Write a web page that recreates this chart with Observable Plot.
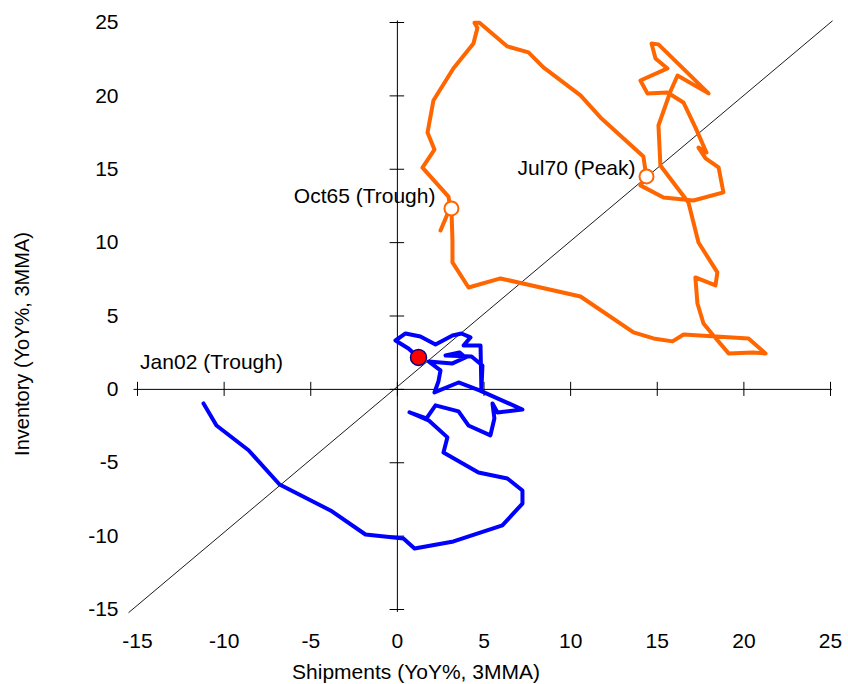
<!DOCTYPE html>
<html>
<head>
<meta charset="utf-8">
<script src="https://cdn.jsdelivr.net/npm/d3@7"></script>
<script src="https://cdn.jsdelivr.net/npm/@observablehq/plot@0.6"></script>
<style>
  html, body { margin: 0; padding: 0; background: #fff; }
  #chart svg { display: block; }
</style>
</head>
<body>
<div id="chart"></div>
<script>
// ---- Data ----
const xTicks = [-15, -10, -5, 0, 5, 10, 15, 20, 25];
const yTicks = [-15, -10, -5, 0, 5, 10, 15, 20, 25];

// 45-degree reference line (Shipments = Inventory)
const diagShip = [-15.5, 25.1];
const diagInv  = [-15.2, 25.1];

// Izanagi cycle (orange): Shipments YoY%, Inventory YoY%
const orangeShip = [3.12, 3.18, 3.18, 4.11, 5.95, 10.57, 13.63, 14.78, 15.88, 16.52,
  20.27, 21.25, 20.50, 19.12, 18.24, 17.67, 17.32, 17.20, 18.36, 18.47,
  17.38, 16.80, 15.18, 15.07, 15.76, 16.17, 17.96, 15.07, 14.67, 14.90,
  15.59, 14.03, 14.43, 15.59, 16.51, 17.20, 17.84, 17.38, 17.79, 18.54,
  18.82, 17.09, 15.36, 14.03, 14.38, 14.32, 14.20, 11.72, 10.57, 8.43,
  7.57, 6.35, 4.74, 4.45, 4.62, 4.39, 3.23, 2.08, 1.74, 2.14,
  1.45, 2.95, 3.05, 2.49];
const orangeInv = [12.33, 10.15, 8.65, 6.94, 7.56, 6.33, 3.88, 3.47, 3.27, 3.74,
  3.47, 2.45, 2.52, 2.45, 3.67, 4.49, 5.85, 7.63, 7.08, 7.97,
  10.01, 12.73, 15.26, 17.98, 20.30, 21.39, 20.17, 23.51, 23.57, 22.55,
  21.87, 21.05, 20.17, 20.23, 19.55, 17.85, 16.14, 16.48, 15.74, 15.13,
  13.42, 12.87, 13.08, 13.90, 14.51, 14.92, 15.87, 18.53, 20.03, 21.94,
  22.96, 23.37, 24.98, 24.98, 24.62, 23.57, 21.87, 19.68, 17.50, 16.34,
  15.11, 13.14, 12.40, 10.83];

// Post-2002 cycle (blue)
const blueShip = [-11.19, -10.44, -8.59, -6.80, -3.86, -1.84, 0.35, 0.99, 3.24, 6.06,
  7.22, 7.22, 6.35, 4.68, 2.66, 2.89, 1.80, 0.70, 1.68, 2.20,
  3.53, 4.10, 5.37, 5.60, 5.49, 5.78, 7.22, 4.74, 3.53, 2.14,
  2.37, 2.49, 1.80, 3.18, 3.93, 3.58, 2.78, 4.28, 4.91, 4.85,
  4.80, 3.82, 4.22, 3.70, 3.18, 2.20, 1.33, 0.47, -0.11, 0.64,
  1.22];
const blueInv = [-0.96, -2.46, -4.15, -6.48, -8.25, -9.89, -10.16, -10.84, -10.36, -9.27,
  -7.78, -6.89, -6.07, -5.66, -4.30, -3.27, -2.11, -1.56, -1.97, -1.09,
  -1.50, -2.46, -3.13, -1.98, -0.96, -1.57, -1.37, -0.07, 0.47, -0.21,
  0.54, 1.29, 1.90, 1.77, 2.17, 2.52, 2.31, 2.24, 1.63, -0.07,
  2.99, 2.99, 3.54, 3.81, 3.67, 3.06, 3.60, 3.81, 3.33, 2.79,
  2.18];

// Marked turning points (open circles)
const troughLabel = "Oct65 (Trough)";
const troughShip = 3.12, troughInv = 12.33;
const peakLabel = "Jul70 (Peak)";
const peakShip = 14.38, peakInv = 14.51;

// Label for the start of the blue cycle
const blueStartLabel = "Jan02 (Trough)";

// ---- Build tables ----
const orange = orangeShip.map((x, i) => [x, orangeInv[i]]);
const blue = blueShip.map((x, i) => [x, blueInv[i]]);
const diag = diagShip.map((x, i) => [x, diagInv[i]]);
const trough = [{label: troughLabel, x: troughShip, y: troughInv}];
const peak = [{label: peakLabel, x: peakShip, y: peakInv}];
const markers = trough.concat(peak);
const blueEnd = [blue[blue.length - 1]];
const blueStart = [{label: blueStartLabel, x: blueShip[0], y: blueInv[0]}];

const font = "'Liberation Sans', Arial, Helvetica, sans-serif";
const xmin = d3.min(xTicks), xmax = d3.max(xTicks);
const ymin = d3.min(yTicks), ymax = d3.max(yTicks);

const chart = Plot.plot({
  width: 848,
  height: 684,
  marginLeft: 137,
  marginRight: 18,
  marginTop: 22,
  marginBottom: 75,
  x: {domain: [xmin, xmax], axis: null},
  y: {domain: [ymin, ymax], axis: null},
  style: {fontFamily: font, background: "#fff", overflow: "visible"},
  marks: [
    // diagonal
    Plot.line(diag, {stroke: "#000", strokeWidth: 0.9}),
    // axes crossing at 0
    Plot.ruleY([0], {x1: xmin - 0.2, x2: xmax + 0.1, stroke: "#000", strokeWidth: 1}),
    Plot.ruleX([0], {y1: ymin - 0.2, y2: ymax + 0.1, stroke: "#000", strokeWidth: 1}),
    // cross ticks
    Plot.ruleX(xTicks, {x: d => d, y1: -0.48, y2: 0.48, stroke: "#000", strokeWidth: 1}),
    Plot.ruleY(yTicks, {y: d => d, x1: -0.42, x2: 0.42, stroke: "#000", strokeWidth: 1}),
    // tick labels
    Plot.text(yTicks, {x: xmin, y: d => d, text: d => String(d), textAnchor: "end", dx: -19, fontSize: 21, fill: "#000"}),
    Plot.text(xTicks, {x: d => d, y: ymin, text: d => String(d), dy: 32, fontSize: 21, fill: "#000"}),
    // axis titles
    Plot.text(["Shipments (YoY%, 3MMA)"], {frameAnchor: "bottom", text: d => d, textAnchor: "middle", lineAnchor: "middle", dx: -68, dy: 63, fontSize: 21, fill: "#000"}),
    Plot.text(["Inventory (YoY%, 3MMA)"], {frameAnchor: "left", text: d => d, textAnchor: "middle", lineAnchor: "middle", rotate: -90, dx: -115, dy: 28, fontSize: 20, fill: "#000"}),
    // series
    Plot.line(orange, {stroke: "#FF6600", strokeWidth: 4, strokeLinejoin: "round", strokeLinecap: "round"}),
    Plot.line(blue, {stroke: "#0000FF", strokeWidth: 4, strokeLinejoin: "round", strokeLinecap: "round"}),
    // markers
    Plot.dot(markers, {x: "x", y: "y", r: 7, fill: "#fff", stroke: "#FF6600", strokeWidth: 2}),
    Plot.dot(blueEnd, {r: 8, fill: "#FF0000", stroke: "#000080", strokeWidth: 1.5}),
    // annotations
    Plot.text(trough, {x: "x", y: "y", text: "label", textAnchor: "end", dx: -16, dy: -12, fontSize: 21, fill: "#000"}),
    Plot.text(peak, {x: "x", y: "y", text: "label", textAnchor: "end", dx: -11, dy: -8, fontSize: 21, fill: "#000"}),
    Plot.text(blueStart, {x: "x", y: "y", text: "label", dx: 8, dy: -41, fontSize: 21, fill: "#000"})
  ]
});

document.getElementById("chart").appendChild(chart);
</script>
</body>
</html>
